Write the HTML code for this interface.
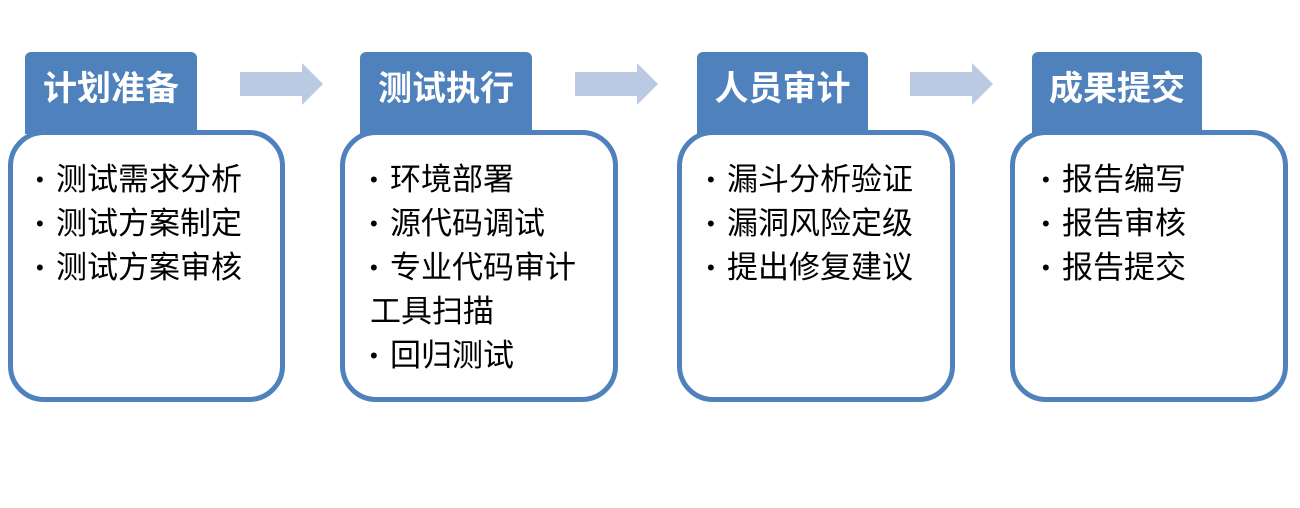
<!DOCTYPE html>
<html><head><meta charset="utf-8"><style>
body{margin:0;width:1300px;height:508px;background:#fff;position:relative;overflow:hidden;font-family:"Liberation Sans","Noto Sans CJK SC",sans-serif}
.tab{position:absolute;top:52px;height:82px;background:#4f81bd;border-radius:6px 6px 0 0;color:#fff;font-size:34px;font-weight:bold;text-align:center;line-height:74px}
.box{position:absolute;top:130px;height:262px;border:5px solid #4f81bd;border-radius:36px;background:#fff}
.t{position:absolute;font-size:31px;line-height:44px;color:#000;white-space:nowrap}
.t b{display:inline-block;width:20px;font-weight:normal;font-size:22px;vertical-align:top}
.arr{position:absolute;top:63px}
</style></head><body>
<div class="tab" style="left:25px;width:172px">计划准备</div>
<div class="tab" style="left:360px;width:172px">测试执行</div>
<div class="tab" style="left:697px;width:171px">人员审计</div>
<div class="tab" style="left:1032px;width:170px">成果提交</div>

<div class="box" style="left:8px;width:267px"></div>
<div class="box" style="left:340px;width:268px"></div>
<div class="box" style="left:677px;width:268px"></div>
<div class="box" style="left:1010px;width:268px"></div>

<div class="t" style="left:36px;top:158px"><b>•</b>测试需求分析<br><b>•</b>测试方案制定<br><b>•</b>测试方案审核</div>
<div class="t" style="left:370px;top:158px"><b>•</b>环境部署<br><b>•</b>源代码调试<br><b>•</b>专业代码审计<br>工具扫描<br><b>•</b>回归测试</div>
<div class="t" style="left:707px;top:158px"><b>•</b>漏斗分析验证<br><b>•</b>漏洞风险定级<br><b>•</b>提出修复建议</div>
<div class="t" style="left:1042px;top:158px"><b>•</b>报告编写<br><b>•</b>报告审核<br><b>•</b>报告提交</div>

<svg class="arr" style="left:240px" width="84" height="44"><polygon points="0,9 62,9 62,0 83,21 62,42 62,33 0,33" fill="#b9cae2"/></svg>
<svg class="arr" style="left:575px" width="84" height="44"><polygon points="0,9 62,9 62,0 83,21 62,42 62,33 0,33" fill="#b9cae2"/></svg>
<svg class="arr" style="left:910px" width="84" height="44"><polygon points="0,9 62,9 62,0 83,21 62,42 62,33 0,33" fill="#b9cae2"/></svg>
</body></html>
